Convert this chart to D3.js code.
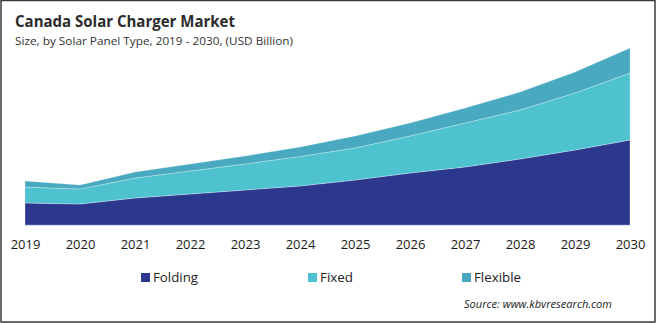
<!DOCTYPE html>
<html>
<head>
<meta charset="utf-8">
<script src="https://cdn.jsdelivr.net/npm/d3@7"></script>
<style>
  html, body { margin: 0; padding: 0; background: #fff; }
  svg { display: block; }
</style>
</head>
<body>
<svg id="chart" width="656" height="323"></svg>
<script>
// Canada solar charger market size by solar panel type (USD Billion)
const years = [2019, 2020, 2021, 2022, 2023, 2024, 2025, 2026, 2027, 2028, 2029, 2030];
const folding  = [0.022, 0.021, 0.027, 0.031, 0.035, 0.039, 0.045, 0.052, 0.058, 0.066, 0.075, 0.085];
const fixed    = [0.016, 0.015, 0.020, 0.023, 0.026, 0.0295, 0.032, 0.037, 0.044, 0.049, 0.057, 0.067];
const flexible = [0.006, 0.004, 0.006, 0.007, 0.008, 0.0095, 0.012, 0.013, 0.015, 0.018, 0.021, 0.025];

const seriesNames = ["Folding", "Fixed", "Flexible"];
const seriesColors = ["#2c378e", "#4ec3cf", "#48a9c0"];

const rows = years.map((y, i) => ({ year: y, Folding: folding[i], Fixed: fixed[i], Flexible: flexible[i] }));

const svg = d3.select("#chart");
const W = 656, H = 323;

const x = d3.scalePoint().domain(years).range([25, 630]);
const y = d3.scaleLinear().domain([0, 0.2]).range([225, 25]);

const stacked = d3.stack().keys(seriesNames)(rows);

const area = d3.area()
  .x(d => x(d.data.year))
  .y0(d => y(d[0]))
  .y1(d => y(d[1]));

svg.append("g")
  .selectAll("path")
  .data(stacked)
  .join("path")
  .attr("d", area)
  .attr("fill", (d, i) => seriesColors[i])
  .attr("stroke", "rgba(255,255,255,0.45)")
  .attr("stroke-width", 0.6);

// baseline
svg.append("line")
  .attr("x1", x(years[0])).attr("x2", x(years[years.length - 1]))
  .attr("y1", y(0) + 0.5).attr("y2", y(0) + 0.5)
  .attr("stroke", "#d2dcf2").attr("stroke-width", 1);

// x axis labels
const xAxis = d3.axisBottom(x).tickSize(0).tickPadding(0);
const gx = svg.append("g").attr("transform", `translate(0,${y(0)})`).call(xAxis);
gx.select(".domain").remove();
gx.selectAll("text")
  .attr("dy", null)
  .attr("y", 24)
  .attr("fill", "#1a1a1a")
  .style("font-family", "'Open Sans', 'Noto Sans', sans-serif")
  .style("font-size", "13px");

function fit(sel, width) {
  sel.attr("textLength", width).attr("lengthAdjust", "spacingAndGlyphs");
}

// title & subtitle
svg.append("text")
  .attr("x", 15).attr("y", 27)
  .attr("fill", "#2b2b2b")
  .style("font-family", "'Open Sans', 'Noto Sans', sans-serif")
  .style("font-weight", "bold")
  .style("font-size", "16px")
  .text("Canada Solar Charger Market")
  .call(fit, 220);

svg.append("text")
  .attr("x", 15).attr("y", 45)
  .attr("fill", "#333")
  .style("font-family", "'Open Sans', 'Noto Sans', sans-serif")
  .style("font-size", "11.5px")
  .text("Size, by Solar Panel Type, 2019 - 2030, (USD Billion)")
  .call(fit, 278);

// legend
const legendX = [141, 308, 462];
const legendW = [45, 33, 47];
const lg = svg.append("g");
seriesNames.forEach((name, i) => {
  lg.append("rect")
    .attr("x", legendX[i]).attr("y", 273)
    .attr("width", 9).attr("height", 9)
    .attr("fill", seriesColors[i]);
  lg.append("text")
    .attr("x", legendX[i] + 12).attr("y", 282)
    .attr("fill", "#222")
    .style("font-family", "'Open Sans', 'Noto Sans', sans-serif")
    .style("font-size", "13px")
    .text(name)
    .call(fit, legendW[i]);
});

// source
svg.append("text")
  .attr("x", 464).attr("y", 308)
  .attr("fill", "#222")
  .style("font-family", "'Open Sans', 'Noto Sans', sans-serif")
  .style("font-style", "italic")
  .style("font-size", "11px")
  .text("Source: www.kbvresearch.com")
  .call(fit, 148);

// frame
svg.append("rect")
  .attr("x", 1).attr("y", 0.5)
  .attr("width", W - 2).attr("height", H - 1.5)
  .attr("fill", "none")
  .attr("stroke", "#3a3a3a")
  .attr("stroke-width", 1.5);
</script>
</body>
</html>
